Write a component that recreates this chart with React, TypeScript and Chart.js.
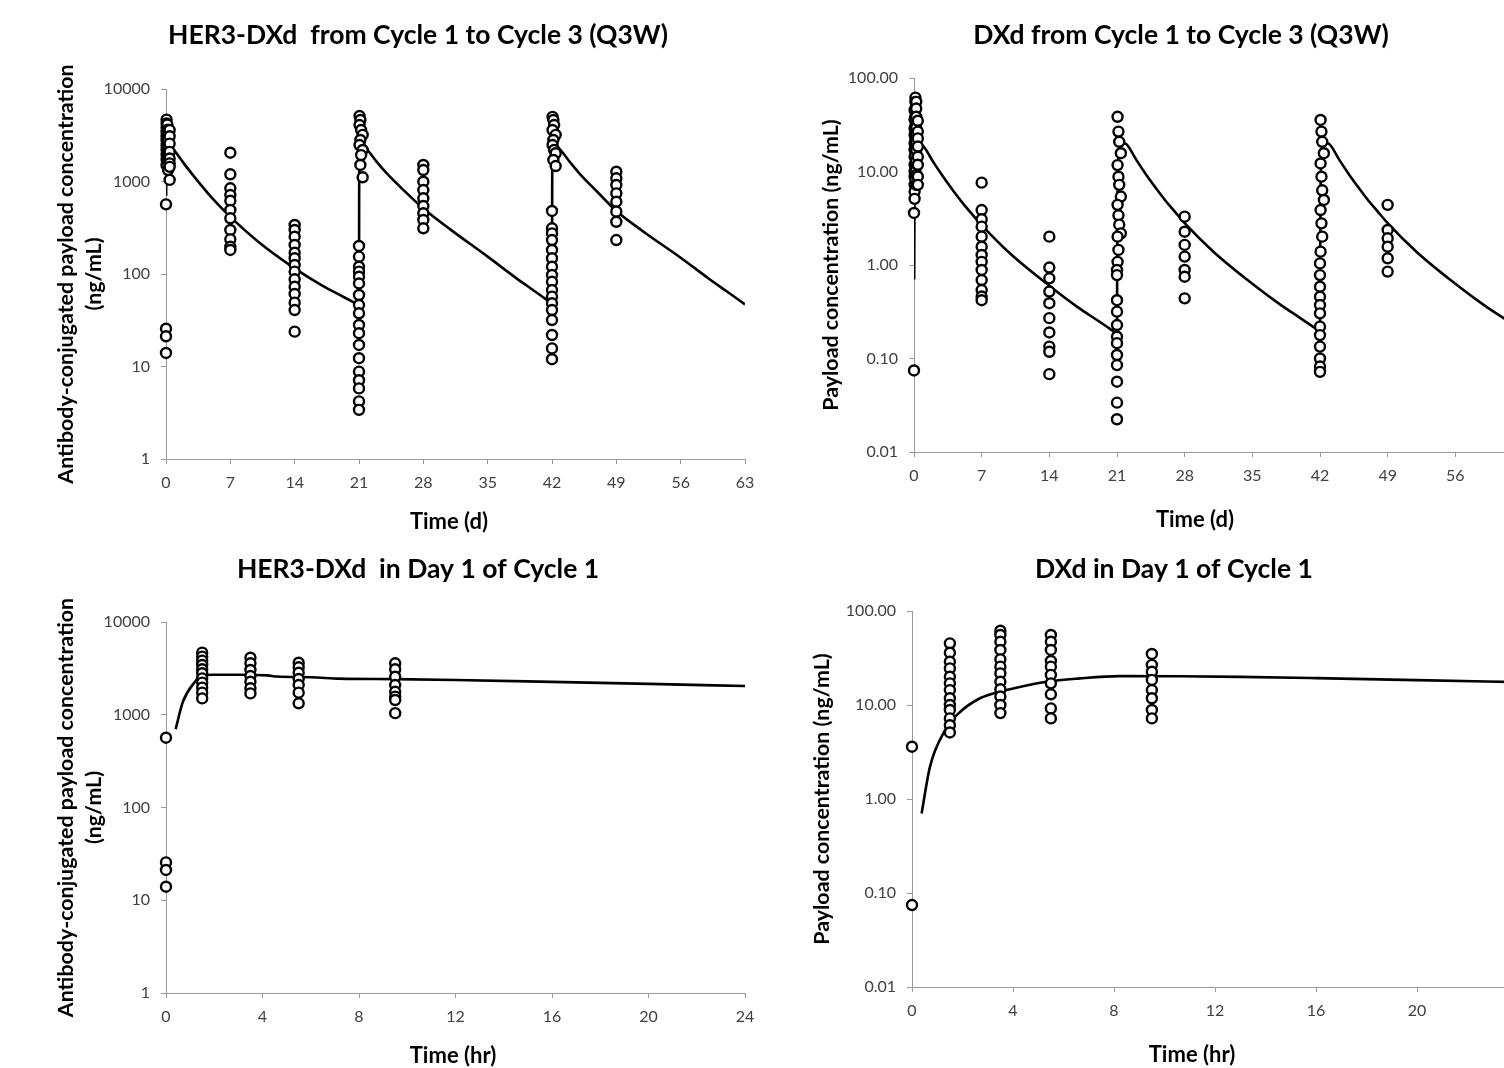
import React, { useEffect, useRef } from 'react';
import { Chart, registerables } from 'chart.js';

Chart.register(...registerables);

const FONT_FAMILY = 'Lato, "Open Sans", "DejaVu Sans", sans-serif';

// ---------- tick labels ----------
const xTicksCycle = [0, 7, 14, 21, 28, 35, 42, 49, 56, 63];
const xTicksDay1 = [0, 4, 8, 12, 16, 20, 24];
const yTicksAdc = [1, 10, 100, 1000, 10000];
const yTicksDxd = [0.01, 0.1, 1, 10, 100];

// ---------- Day 1 of Cycle 1 (hours) ----------
const day1SampleHours = [0, 1.5, 3.5, 5.5, 9.5];
const adcDay1Obs = [
  [566, 25.6, 21.2, 14.0],
  [4670, 4230, 3830, 3440, 3090, 2800, 2470, 2220, 1960, 1730, 1500],
  [4120, 3590, 3040, 2620, 2270, 1930, 1700],
  [3640, 3250, 2840, 2430, 2090, 1730, 1330],
  [3590, 3090, 2570, 2090, 1770, 1570, 1440, 1040],
];
const adcDay1ModelHours = [0.4, 0.7, 1.2, 1.5, 2, 3, 4.2, 4.6, 6, 7.2, 9.5, 12, 16, 20, 24];
const adcDay1ModelConc = [700, 1380, 2270, 2680, 2700, 2700, 2660, 2580, 2540, 2450, 2420, 2370, 2260, 2150, 2040];

const dxdDay1Obs = [
  [3.6, 0.0745],
  [45.3, 36, 28.9, 24.5, 20, 17, 14.4, 11.8, 10, 8.85, 7.2, 6.1, 5.1],
  [61.7, 55.6, 47.1, 38.5, 30.6, 25.6, 21.7, 17.7, 14.7, 12.3, 10, 8.2],
  [55.6, 47.1, 38.5, 29.4, 25.6, 20.9, 17.0, 13.0, 9.2, 7.2],
  [34.9, 26.7, 22.6, 18.5, 14.4, 11.8, 8.85, 7.2],
];
const dxdDay1ModelHours = [0.38, 0.71, 1.31, 1.77, 2.69, 3.75, 5.33, 6.65, 8.24, 10.6, 13, 16, 20, 24];
const dxdDay1ModelConc = [0.7, 2.2, 5.4, 7.8, 11.8, 14.4, 17.7, 19.2, 20.3, 20.2, 19.9, 19.3, 18.4, 17.5];

// ---------- Cycles 1 to 3 (days) ----------
const cycleSampleDays = [7, 14, 21, 28, 42, 49];
const adcCycleObs = [
  [2047, 1196, 844, 714, 620, 492, 400, 299, 237, 197, 182],
  [339, 299, 253, 206, 170, 148, 125, 106, 87.7, 72.9, 60.8, 49, 40.8, 23.8],
  [201, 154, 120, 106, 93.5, 79, 59.3, 46.2, 37.6, 28.1, 22.9, 17.1, 12.3, 8.8, 7.1, 5.8, 4.2, 3.4],
  [1508, 1331, 995, 809, 658, 543, 453, 384, 312],
  [480, 312, 275, 233, 182, 148, 120, 97.5, 82.6, 67.1, 56.9, 48.2, 40.8, 31.8, 21.9, 15.7, 12.0],
  [1276, 1083, 916, 745, 605, 472, 367, 233],
];
const adcC2PostDays = [21.06, 21.15, 21.06, 21.23, 21.4, 21.15, 21.06, 21.4, 21.23, 21.15, 21.4];
const adcC2PostConc = [5100, 4620, 4080, 3600, 3190, 2810, 2480, 2190, 1930, 1510, 1110];
const adcC3PostDays = [42.06, 42.15, 42.23, 42.06, 42.4, 42.15, 42.06, 42.23, 42.4, 42.15, 42.4];
const adcC3PostConc = [5000, 4620, 4080, 3600, 3190, 2810, 2480, 2190, 2020, 1710, 1470];
const adcCycleModelDays = [
  0.017, 0.03, 0.05, 0.0625, 0.17, 0.4, 1, 2, 3, 5, 7, 10, 14, 17, 19, 20, 20.5, 21,
  21.017, 21.03, 21.05, 21.0625, 21.17, 21.4, 22, 23, 24, 26, 28, 31, 35, 38, 40, 41, 41.5, 42,
  42.017, 42.03, 42.05, 42.0625, 42.17, 42.4, 43, 44, 45, 47, 49, 52, 56, 59, 61, 63,
];
const adcCycleModelConc = [
  700, 1380, 2270, 2680, 2700, 2420, 2100, 1540, 1150, 665, 414, 225, 115, 75, 58.7, 52, 48.9, 46,
  740, 1450, 2330, 2750, 2780, 2500, 2150, 1600, 1230, 780, 510, 300, 154, 92, 66.4, 56.4, 52, 48,
  740, 1450, 2330, 2750, 2780, 2500, 2150, 1600, 1220, 760, 480, 285, 150, 90, 65, 47,
];

const dxdCycleObs = [
  [7.6, 3.87, 3.08, 2.57, 2.01, 1.57, 1.28, 1.08, 0.885, 0.69, 0.54, 0.46, 0.42],
  [2.01, 0.94, 0.72, 0.52, 0.39, 0.27, 0.19, 0.134, 0.118, 0.068],
  [0.42, 0.317, 0.228, 0.171, 0.146, 0.109, 0.085, 0.0565, 0.0337, 0.0224],
  [3.29, 2.27, 1.64, 1.23, 0.885, 0.75, 0.44],
  [0.586, 0.458, 0.373, 0.304, 0.219, 0.178, 0.134, 0.1, 0.082, 0.072],
  [4.4, 2.37, 1.93, 1.57, 1.18, 0.85],
];
const dxdC2PostDays = [21.06, 21.15, 21.23, 21.4, 21.06, 21.15, 21.23, 21.4, 21.06, 21.15, 21.23, 21.4, 21.06, 21.15, 21.06, 21.0, 21.0];
const dxdC2PostConc = [38.5, 26.7, 20.8, 15.7, 11.7, 8.8, 7.2, 5.4, 4.4, 3.4, 2.7, 2.18, 2.01, 1.45, 1.08, 0.885, 0.78];
const dxdC3PostDays = [42.06, 42.15, 42.23, 42.4, 42.06, 42.15, 42.23, 42.4, 42.06, 42.15, 42.23, 42.06, 42.0, 42.0];
const dxdC3PostConc = [35.6, 26.7, 20.8, 15.7, 12.2, 8.8, 6.3, 4.96, 3.87, 2.79, 2.01, 1.39, 1.04, 0.78];
const dxdCycleModelDays = [
  0.016, 0.055, 0.11, 0.22, 0.34, 1, 2, 3, 4, 5, 6, 7, 10, 14, 17, 19, 20, 20.5, 21,
  21.016, 21.055, 21.11, 21.22, 21.34, 22, 23, 24, 25, 26, 27, 28, 31, 35, 38, 40, 41, 41.5, 42,
  42.016, 42.055, 42.11, 42.22, 42.34, 43, 44, 45, 46, 47, 48, 49, 52, 56, 59, 61, 63,
];
const dxdCycleModelConc = [
  0.7, 5.4, 11.8, 17.7, 20.3, 18.5, 12.6, 8.85, 6.35, 4.65, 3.5, 2.67, 1.31, 0.6, 0.35, 0.255, 0.217, 0.2, 0.185,
  0.85, 5.6, 12, 18, 20.5, 19.5, 13.3, 9.3, 6.7, 4.9, 3.7, 2.8, 1.38, 0.63, 0.37, 0.269, 0.229, 0.211, 0.195,
  0.85, 5.6, 12, 18, 20.5, 19.5, 13.3, 9.3, 6.7, 4.9, 3.7, 2.8, 1.38, 0.63, 0.37, 0.27, 0.195,
];

// ---------- helpers ----------
type Pt = { x: number; y: number };
const groupPoints = (times: number[], groups: number[][], divisor = 1): Pt[] =>
  times.flatMap((t, i) => groups[i].map((v) => ({ x: t / divisor, y: v })));
const pairPoints = (xs: number[], ys: number[], divisor = 1): Pt[] =>
  xs.map((x, i) => ({ x: x / divisor, y: ys[i] }));

interface PanelSpec {
  key: string;
  title: string;
  xTitle: string;
  yTitle: string | string[];
  obs: Pt[];
  model: Pt[];
  xTicks: number[];
  yTicks: number[];
  yDecimals: number;
  canvas: { left: number; top: number; width: number; height: number };
  padTop: number;
  padRight: number;
  yAxisWidth: number;
  xAxisHeight: number;
  yTitlePad: number;
  titlePos: [number, number];
  xTitlePos: [number, number];
}

const TITLE_SIZE = 26.5;
const AXIS_TITLE_SIZE = 21.4;
const X_TITLE_SIZE = 22;
const TICK_SIZE = 16;
const AXIS_COLOR = '#9a9a9a';
const TICK_COLOR = '#404040';

const panels: PanelSpec[] = [
  {
    key: 'adcCycles',
    title: 'HER3-DXd  from Cycle 1 to Cycle 3 (Q3W)',
    xTitle: 'Time (d)',
    yTitle: ['Antibody-conjugated payload concentration', '(ng/mL)'],
    obs: [
      ...groupPoints(day1SampleHours, adcDay1Obs, 24),
      ...groupPoints(cycleSampleDays, adcCycleObs),
      ...pairPoints(adcC2PostDays, adcC2PostConc),
      ...pairPoints(adcC3PostDays, adcC3PostConc),
    ],
    model: pairPoints(adcCycleModelDays, adcCycleModelConc),
    xTicks: xTicksCycle,
    yTicks: yTicksAdc,
    yDecimals: 0,
    canvas: { left: 0, top: 0, width: 790, height: 545 },
    padTop: 89,
    padRight: 45,
    yAxisWidth: 166,
    xAxisHeight: 86,
    yTitlePad: 52,
    titlePos: [418, 35],
    xTitlePos: [449, 522],
  },
  {
    key: 'dxdCycles',
    title: 'DXd from Cycle 1 to Cycle 3 (Q3W)',
    xTitle: 'Time (d)',
    yTitle: 'Payload concentration (ng/mL)',
    obs: [
      ...groupPoints(day1SampleHours, dxdDay1Obs, 24),
      ...groupPoints(cycleSampleDays, dxdCycleObs),
      ...pairPoints(dxdC2PostDays, dxdC2PostConc),
      ...pairPoints(dxdC3PostDays, dxdC3PostConc),
    ],
    model: pairPoints(dxdCycleModelDays, dxdCycleModelConc),
    xTicks: xTicksCycle,
    yTicks: yTicksDxd,
    yDecimals: 2,
    canvas: { left: 760, top: 0, width: 808, height: 545 },
    padTop: 78,
    padRight: 45,
    yAxisWidth: 154,
    xAxisHeight: 93,
    yTitlePad: 57,
    titlePos: [421, 35],
    xTitlePos: [435, 520],
  },
  {
    key: 'adcDay1',
    title: 'HER3-DXd  in Day 1 of Cycle 1',
    xTitle: 'Time (hr)',
    yTitle: ['Antibody-conjugated payload concentration', '(ng/mL)'],
    obs: groupPoints(day1SampleHours, adcDay1Obs),
    model: pairPoints(adcDay1ModelHours, adcDay1ModelConc),
    xTicks: xTicksDay1,
    yTicks: yTicksAdc,
    yDecimals: 0,
    canvas: { left: 0, top: 540, width: 790, height: 545 },
    padTop: 82,
    padRight: 45,
    yAxisWidth: 166,
    xAxisHeight: 92,
    yTitlePad: 52,
    titlePos: [418, 29],
    xTitlePos: [453, 516],
  },
  {
    key: 'dxdDay1',
    title: 'DXd in Day 1 of Cycle 1',
    xTitle: 'Time (hr)',
    yTitle: 'Payload concentration (ng/mL)',
    obs: groupPoints(day1SampleHours, dxdDay1Obs),
    model: pairPoints(dxdDay1ModelHours, dxdDay1ModelConc),
    xTicks: xTicksDay1,
    yTicks: yTicksDxd,
    yDecimals: 2,
    canvas: { left: 760, top: 540, width: 808, height: 545 },
    padTop: 71,
    padRight: 50,
    yAxisWidth: 152,
    xAxisHeight: 98,
    yTitlePad: 48,
    titlePos: [414, 29],
    xTitlePos: [432, 515],
  },
];

function textPlugin(items: { text: string; x: number; y: number; size: number }[]) {
  return {
    id: 'panelText',
    afterDraw(chart: any) {
      const ctx = chart.ctx as CanvasRenderingContext2D;
      items.forEach((it) => {
        ctx.save();
        ctx.font = `bold ${it.size}px ${FONT_FAMILY}`;
        ctx.fillStyle = '#000';
        ctx.textAlign = 'center';
        ctx.textBaseline = 'middle';
        ctx.fillText(it.text, it.x, it.y);
        ctx.restore();
      });
    },
  };
}

function buildConfig(p: PanelSpec): any {
  const tickFont = { family: FONT_FAMILY, size: TICK_SIZE };
  return {
    type: 'scatter',
    data: {
      datasets: [
        {
          label: 'Observed',
          data: p.obs,
          showLine: false,
          pointRadius: 5,
          pointBorderWidth: 2.4,
          pointBackgroundColor: '#ffffff',
          pointBorderColor: '#000000',
          clip: false,
          order: 0,
        },
        {
          label: 'Model',
          data: p.model,
          showLine: true,
          borderColor: '#000000',
          borderWidth: 2.6,
          pointRadius: 0,
          fill: false,
          cubicInterpolationMode: 'monotone',
          order: 1,
        },
      ],
    },
    options: {
      responsive: false,
      animation: false,
      events: [],
      layout: { autoPadding: false, padding: { left: 0, top: p.padTop, right: p.padRight, bottom: 0 } },
      plugins: { legend: { display: false }, tooltip: { enabled: false }, title: { display: false } },
      scales: {
        x: {
          type: 'linear',
          min: p.xTicks[0],
          max: p.xTicks[p.xTicks.length - 1],
          afterBuildTicks: (s: any) => {
            s.ticks = p.xTicks.map((v) => ({ value: v }));
          },
          afterFit: (s: any) => {
            s.height = p.xAxisHeight;
          },
          ticks: { font: tickFont, color: TICK_COLOR, padding: 9, maxRotation: 0, autoSkip: false },
          grid: { drawOnChartArea: false, drawTicks: true, tickLength: 5, color: AXIS_COLOR },
          border: { display: true, color: AXIS_COLOR, width: 1 },
        },
        y: {
          type: 'logarithmic',
          min: p.yTicks[0],
          max: p.yTicks[p.yTicks.length - 1],
          afterBuildTicks: (s: any) => {
            s.ticks = p.yTicks.map((v) => ({ value: v }));
          },
          afterFit: (s: any) => {
            s.width = p.yAxisWidth;
          },
          ticks: {
            font: tickFont,
            color: TICK_COLOR,
            padding: 11,
            autoSkip: false,
            callback: (v: any) => Number(v).toFixed(p.yDecimals),
          },
          grid: { drawOnChartArea: false, drawTicks: true, tickLength: 5, color: AXIS_COLOR },
          border: { display: true, color: AXIS_COLOR, width: 1 },
          title: {
            display: true,
            text: p.yTitle,
            color: '#000',
            font: { family: FONT_FAMILY, size: AXIS_TITLE_SIZE, weight: 'bold', lineHeight: 1.3 },
            padding: { top: p.yTitlePad, bottom: 0 },
          },
        },
      },
    },
    plugins: [
      textPlugin([
        { text: p.title, x: p.titlePos[0], y: p.titlePos[1], size: TITLE_SIZE },
        { text: p.xTitle, x: p.xTitlePos[0], y: p.xTitlePos[1], size: X_TITLE_SIZE },
      ]),
    ],
  };
}

function Panel({ spec }: { spec: PanelSpec }) {
  const ref = useRef<HTMLCanvasElement>(null);
  useEffect(() => {
    if (!ref.current) return;
    const chart = new Chart(ref.current, buildConfig(spec));
    return () => chart.destroy();
  }, [spec]);
  const c = spec.canvas;
  return (
    <canvas
      ref={ref}
      width={c.width}
      height={c.height}
      style={{ position: 'absolute', left: c.left, top: c.top, width: c.width, height: c.height }}
    />
  );
}

export default function App() {
  return (
    <div
      style={{
        position: 'fixed',
        left: 0,
        top: 0,
        width: 1504,
        height: 1068,
        overflow: 'hidden',
        background: '#ffffff',
      }}
    >
      {panels.map((p) => (
        <Panel key={p.key} spec={p} />
      ))}
    </div>
  );
}
